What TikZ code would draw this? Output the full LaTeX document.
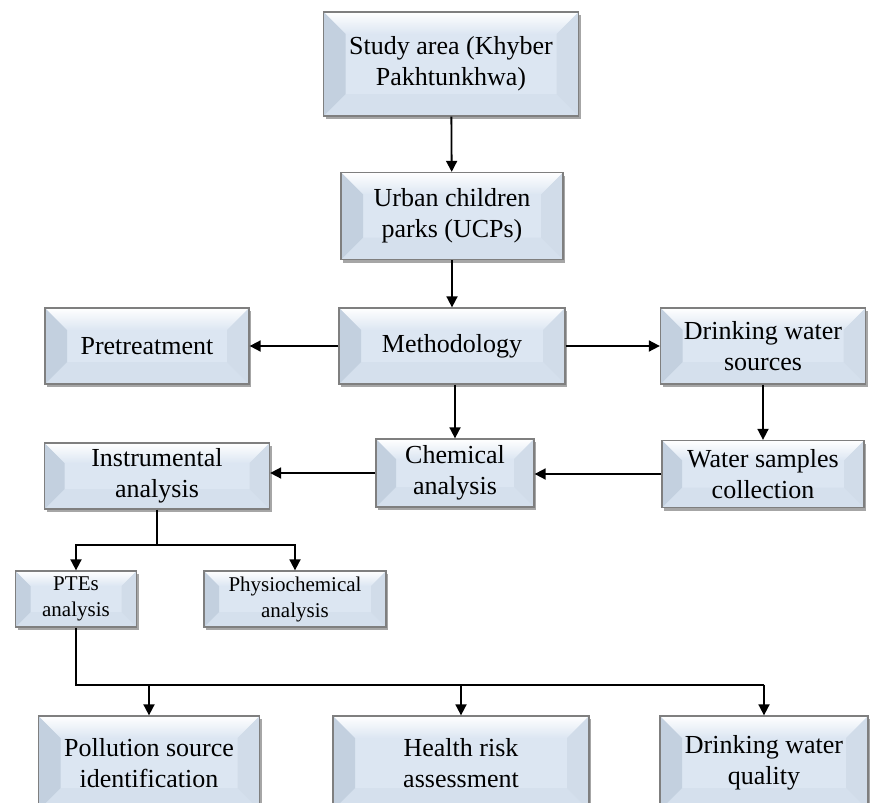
\documentclass[tikz,border=0pt]{standalone}
\usepackage{fontspec}
\setmainfont{Liberation Serif}
\usetikzlibrary{arrows.meta,calc,shadows}

\definecolor{boxface}{HTML}{DCE6F2}
\definecolor{boxline}{HTML}{7F7F7F}
\definecolor{bevleft}{HTML}{C3D0DF}
\definecolor{bevright}{HTML}{D1DCE9}
\definecolor{bevbottom}{HTML}{D5E0ED}

\tikzset{
	bevsize/.store in=\bv, bevsize=22pt,
	bevel/.style={rectangle, draw=boxline, line width=1.3pt, fill=boxface, align=center, inner sep=0pt,
		font=\fontsize{26}{31}\selectfont,
		drop shadow={shadow xshift=2pt, shadow yshift=-3pt, opacity=0.35, fill=black},
		path picture={
			\coordinate (nw) at (path picture bounding box.north west);
			\coordinate (ne) at (path picture bounding box.north east);
			\coordinate (sw) at (path picture bounding box.south west);
			\coordinate (se) at (path picture bounding box.south east);
			\shade[top color=white, bottom color=boxface] (nw) -- (ne) -- ($(ne)+(-\bv,-\bv)$) -- ($(nw)+(\bv,-\bv)$) -- cycle;
			\fill[bevbottom] (sw) -- (se) -- ($(se)+(-\bv,\bv)$) -- ($(sw)+(\bv,\bv)$) -- cycle;
			\fill[bevleft] (nw) -- ($(nw)+(\bv,-\bv)$) -- ($(sw)+(\bv,\bv)$) -- (sw) -- cycle;
			\fill[bevright] (ne) -- ($(ne)+(-\bv,-\bv)$) -- ($(se)+(-\bv,\bv)$) -- (se) -- cycle;
		}},
	smallbox/.style={bevel, bevsize=15pt, font=\fontsize{21}{26}\selectfont},
	link/.style={line width=1.8pt, -{Triangle[length=11pt,width=11pt]}},
	line/.style={line width=1.8pt}
}

\begin{document}
\begin{tikzpicture}[x=1pt, y=-1pt]
	\useasboundingbox (0,0) rectangle (876,803);
	% main column
	\node[bevel, minimum width=255, minimum height=104] (study) at (451,64) {Study area (Khyber\\Pakhtunkhwa)};
	\node[bevel, minimum width=222, minimum height=87] (urban) at (452,216) {Urban children\\parks (UCPs)};
	\node[bevel, minimum width=226, minimum height=76] (meth) at (452,346) {Methodology};
	\node[bevel, minimum width=204, minimum height=76] (pre) at (147,346) {Pretreatment};
	\node[bevel, minimum width=205, minimum height=76] (dws) at (763,346) {Drinking water\\sources};
	% analysis row
	\node[bevel, bevsize=20pt, minimum width=158, minimum height=68] (chem) at (455,473) {Chemical\\analysis};
	\node[bevel, bevsize=20pt, minimum width=202, minimum height=67] (wsc) at (763,474) {Water samples\\collection};
	\node[bevel, bevsize=20pt, minimum width=225, minimum height=66] (instr) at (157,476) {Instrumental\\analysis};
	\node[smallbox, minimum width=121, minimum height=56] (ptes) at (76,599) {PTEs\\analysis};
	\node[smallbox, minimum width=182, minimum height=56] (phys) at (295,599) {Physiochemical\\analysis};
	% outcomes, cut by the lower edge
	\node[bevel, minimum width=221, minimum height=94] (pol) at (149,763) {Pollution source\\identification};
	\node[bevel, minimum width=256, minimum height=94] (health) at (461,763) {Health risk\\assessment};
	\node[bevel, minimum width=208, minimum height=94] (dwq) at (764,763) {Drinking water\\quality};
	% connectors
	\draw[link] (study) -- (urban);
	\draw[link] (urban) -- (meth);
	\draw[link] (meth) -- (pre);
	\draw[link] (meth) -- (dws);
	\draw[link] (meth.south -| chem) -- (chem.north);
	\draw[link] (dws) -- (wsc);
	\draw[link] (wsc.west) -- (wsc.west -| chem.east);
	\draw[link] (chem.west) -- (chem.west -| instr.east);
	\coordinate (fork1) at ($(instr.south)+(0,35)$);
	\draw[line] (instr.south) -- (fork1);
	\draw[link] (fork1) -| (ptes.north);
	\draw[link] (fork1) -| (phys.north);
	\coordinate (fork2) at ($(ptes.south)+(0,57)$);
	\draw[line] (ptes.south) -- (fork2) -- (fork2 -| dwq.north);
	\foreach \b in {pol, health, dwq}
		\draw[link] (fork2 -| \b.north) -- (\b.north);
\end{tikzpicture}
\end{document}
